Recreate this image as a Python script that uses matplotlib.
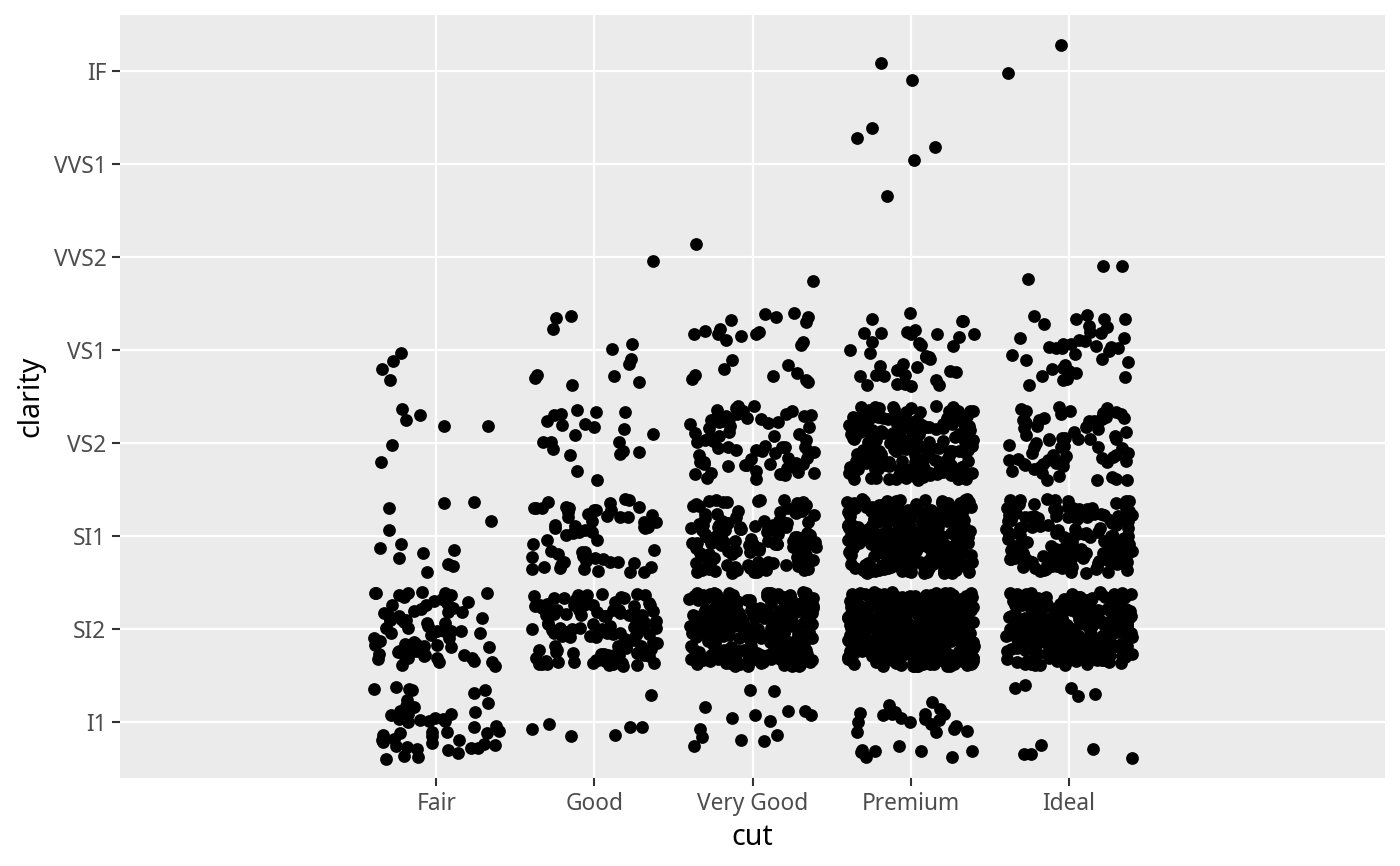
import numpy as np
import matplotlib.pyplot as plt

plt.rcParams['font.family'] = ['Noto Sans', 'DejaVu Sans']

cut_levels = ["Fair", "Good", "Very Good", "Premium", "Ideal"]
clarity_levels = ["I1", "SI2", "SI1", "VS2", "VS1", "VVS2", "VVS1", "IF"]

# number of diamonds per clarity level (I1 ... IF), one list per cut,
# estimated from the density of each jittered block
fair_counts = [48, 72, 13, 7, 4, 0, 0, 0]
good_counts = [7, 125, 60, 22, 12, 1, 0, 0]
very_good_counts = [15, 260, 135, 70, 25, 2, 0, 0]
premium_counts = [28, 430, 280, 190, 38, 0, 5, 2]
ideal_counts = [10, 255, 155, 70, 38, 3, 0, 2]

counts = [fair_counts, good_counts, very_good_counts, premium_counts, ideal_counts]

# expand counts into one row per diamond (category codes, 1-based like R factors)
cut_code = []
clarity_code = []
for i, row in enumerate(counts):
    for j, n in enumerate(row):
        cut_code += [i + 1] * n
        clarity_code += [j + 1] * n
cut_code = np.array(cut_code, dtype=float)
clarity_code = np.array(clarity_code, dtype=float)

# position_jitter(width = 0.4, height = 0.4), as geom_jitter does it
rng = np.random.default_rng(2024)
xj = cut_code + rng.uniform(-0.4, 0.4, cut_code.size)
yj = clarity_code + rng.uniform(-0.4, 0.4, clarity_code.size)

fig = plt.figure(figsize=(7, 4.33), dpi=200)
ax = fig.add_axes([120 / 1400, 1 - 778 / 866, 1265 / 1400, 763 / 866])
ax.set_facecolor('#EBEBEB')
for s in ax.spines.values():
    s.set_visible(False)

ax.plot(xj, yj, 'o', color='black', ms=4.6, mew=0, zorder=3)

ax.set_xlim(-1, 7)
ax.set_ylim(0.4, 8.6)
ax.set_xticks(range(1, len(cut_levels) + 1))
ax.set_xticklabels(cut_levels)
ax.set_yticks(range(1, len(clarity_levels) + 1))
ax.set_yticklabels(clarity_levels)

ax.grid(True, color='white', linewidth=0.8, zorder=0)
ax.set_axisbelow(True)
ax.tick_params(length=2.75, width=0.75, color='#333333', pad=2.2,
               labelsize=8.2, labelcolor='#4D4D4D')

ax.set_xlabel('cut', fontsize=10.3, labelpad=2.75)
ax.set_ylabel('clarity', fontsize=10.3, labelpad=2.75)

fig.savefig('out.png', dpi=200)
